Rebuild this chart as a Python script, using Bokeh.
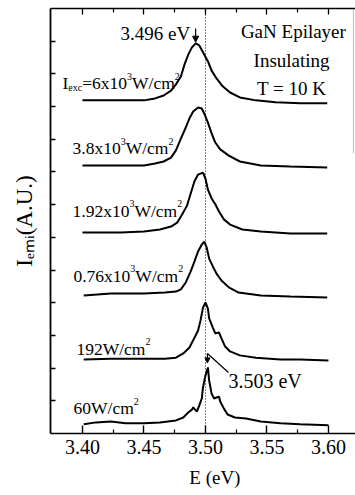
from math import pi
from bokeh.plotting import figure
from bokeh.models import Label, Arrow, NormalHead, LinearAxis, FixedTicker, Span, Range1d
from bokeh.embed import file_html
from bokeh.resources import INLINE

FONT = "Liberation Serif"

# ---- data -------------------------------------------------------------
x_ticks = [3.40, 3.45, 3.50, 3.55, 3.60]
x_tick_labels = ["3.40", "3.45", "3.50", "3.55", "3.60"]
x_minor_ticks = [3.425, 3.475, 3.525, 3.575]
y_ticks = [1, 2, 3, 4, 5, 6, 7, 8, 9, 10, 11, 12]

e_6000 = [3.400, 3.423, 3.450, 3.459, 3.466, 3.472, 3.476, 3.480, 3.483, 3.486, 3.489, 3.492,
          3.495, 3.498, 3.502, 3.505, 3.509, 3.514, 3.520, 3.528, 3.541, 3.557, 3.577, 3.599]
i_6000 = [10.19, 10.19, 10.19, 10.25, 10.34, 10.49, 10.68, 10.92, 11.29, 11.59, 11.81, 11.93,
          11.87, 11.66, 11.38, 11.10, 10.86, 10.62, 10.43, 10.28, 10.19, 10.13, 10.10, 10.10]

e_3800 = [3.400, 3.431, 3.450, 3.459, 3.466, 3.472, 3.476, 3.480, 3.484, 3.487, 3.490, 3.494,
          3.497, 3.499, 3.502, 3.505, 3.508, 3.512, 3.519, 3.528, 3.545, 3.569, 3.599]
i_3800 = [8.20, 8.20, 8.20, 8.26, 8.32, 8.44, 8.66, 9.02, 9.36, 9.64, 9.85, 9.97,
          9.94, 9.79, 9.51, 9.18, 8.90, 8.69, 8.50, 8.32, 8.20, 8.17, 8.14]

e_1920 = [3.400, 3.431, 3.450, 3.463, 3.472, 3.477, 3.481, 3.485, 3.488, 3.491, 3.494, 3.498,
          3.500, 3.502, 3.505, 3.508, 3.511, 3.515, 3.520, 3.530, 3.545, 3.569, 3.599]
i_1920 = [6.15, 6.15, 6.18, 6.24, 6.33, 6.45, 6.70, 6.97, 7.34, 7.71, 7.92, 7.98,
          7.80, 7.46, 7.19, 7.01, 6.79, 6.55, 6.39, 6.24, 6.18, 6.12, 6.12]

e_760 = [3.401, 3.423, 3.450, 3.467, 3.476, 3.480, 3.484, 3.488, 3.491, 3.494, 3.497, 3.499,
         3.501, 3.503, 3.506, 3.509, 3.513, 3.519, 3.527, 3.545, 3.569, 3.599]
i_760 = [4.22, 4.28, 4.28, 4.31, 4.34, 4.41, 4.62, 4.96, 5.26, 5.57, 5.78, 5.87,
         5.69, 5.35, 5.11, 4.89, 4.68, 4.47, 4.31, 4.22, 4.19, 4.16]

e_192 = [3.401, 3.423, 3.450, 3.467, 3.476, 3.482, 3.487, 3.490, 3.494, 3.496, 3.498, 3.500,
         3.502, 3.503, 3.506, 3.508, 3.511, 3.513, 3.516, 3.520, 3.528, 3.541, 3.561, 3.577, 3.600]
i_192 = [2.26, 2.29, 2.29, 2.29, 2.32, 2.45, 2.63, 2.85, 3.15, 3.46, 3.85, 4.01,
         3.82, 3.52, 3.24, 3.06, 3.09, 2.91, 2.66, 2.51, 2.39, 2.32, 2.26, 2.26, 2.23]

e_60 = [3.401, 3.411, 3.423, 3.435, 3.450, 3.463, 3.476, 3.482, 3.486, 3.489, 3.490, 3.493,
        3.495, 3.497, 3.498, 3.500, 3.502, 3.503, 3.505, 3.507, 3.509, 3.511, 3.512, 3.515,
        3.518, 3.524, 3.533, 3.545, 3.561, 3.577, 3.600]
i_60 = [0.28, 0.34, 0.37, 0.31, 0.31, 0.34, 0.40, 0.49, 0.64, 0.73, 0.80, 0.67,
        0.86, 1.07, 1.41, 1.77, 2.02, 1.62, 1.22, 1.07, 1.10, 1.13, 0.98, 0.76,
        0.58, 0.49, 0.46, 0.37, 0.31, 0.28, 0.25]

series = [(e_6000, i_6000), (e_3800, i_3800), (e_1920, i_1920),
          (e_760, i_760), (e_192, i_192), (e_60, i_60)]

x_title = "E (eV)"
y_title = "I\u2091\u2098\u1d62(A.U.)"

# ---- figure -----------------------------------------------------------
p = figure(width=355, height=495, output_backend="svg", toolbar_location=None,
           x_range=Range1d(3.374, 3.622), y_range=Range1d(0, 13),
           min_border_left=50, min_border_right=0, min_border_top=8, min_border_bottom=62)
p.outline_line_color = None
p.grid.visible = False
p.background_fill_color = "white"
p.border_fill_color = "white"

xt = FixedTicker(ticks=x_ticks, minor_ticks=x_minor_ticks)
xa = p.xaxis[0]
xa.ticker = xt
xa.major_label_overrides = {t: s for t, s in zip(x_ticks, x_tick_labels)}
xa.major_label_text_font = FONT
xa.major_label_text_font_size = "20px"
xa.major_label_text_color = "black"
xa.major_label_standoff = 6
xa.axis_line_width = 1.6
xa.axis_line_color = "black"
xa.major_tick_in = 8
xa.major_tick_out = 0
xa.minor_tick_in = 4
xa.minor_tick_out = 0
xa.major_tick_line_width = 1.4
xa.minor_tick_line_width = 1.2
xa.axis_label = "\u00a0" * 5 + x_title
xa.axis_label_text_font = FONT
xa.axis_label_text_font_size = "19px"
xa.axis_label_text_font_style = "normal"
xa.axis_label_text_color = "black"
xa.axis_label_standoff = 10

top = LinearAxis(ticker=xt, major_label_overrides={t: "" for t in x_ticks},
                 major_label_text_font_size="1px", major_label_standoff=0,
                 major_tick_in=6, major_tick_out=0, minor_tick_in=4, minor_tick_out=0,
                 axis_line_width=1.4, major_tick_line_width=1.3, minor_tick_line_width=1.2)
p.add_layout(top, "above")

ya = p.yaxis[0]
ya.ticker = FixedTicker(ticks=y_ticks, minor_ticks=[])
ya.major_label_overrides = {t: "" for t in y_ticks}
ya.major_label_text_font_size = "1px"
ya.major_label_standoff = 0
ya.axis_line_width = 1.8
ya.axis_line_color = "black"
ya.major_tick_in = 5
ya.major_tick_out = 0
ya.major_tick_line_width = 1.3
ya.axis_label = y_title
ya.axis_label_text_font = FONT
ya.axis_label_text_font_size = "23px"
ya.axis_label_text_font_style = "normal"
ya.axis_label_text_color = "black"
ya.axis_label_standoff = 14

# partial right frame edge (faint, as in the scan)
p.line(x=[3.6203, 3.6203], y=[13, 8.57], line_color="#bbbbbb", line_width=1)

# dotted guide at 3.50 eV
p.add_layout(Span(location=3.50, dimension="height", line_color="black",
                  line_width=1, line_dash="1 2"))

for e, i in series:
    p.line(e, i, line_color="black", line_width=2)

# ---- text helpers -----------------------------------------------------
W = {'0': 500, '1': 500, '2': 500, '3': 500, '4': 500, '5': 500, '6': 500, '7': 500,
     '8': 500, '9': 500, '.': 250, 'x': 500, 'W': 944, '/': 278, 'c': 444, 'm': 778,
     '=': 564, 'I': 333, 'e': 444, 'V': 722, ' ': 250, '(': 333, ')': 333, 'A': 722,
     'U': 722, 'E': 611, 'i': 278}


def tw(s, size):
    return sum(W.get(c, 500) for c in s) * size / 1000.0


def rich(x, y, parts):
    off = 0.0
    for text, size, dy in parts:
        lab = Label(x=x, y=y, x_offset=off, y_offset=dy, text=text)
        lab.text_font = FONT
        lab.text_font_size = f"{size}px"
        lab.text_baseline = "alphabetic"
        lab.text_color = "black"
        p.add_layout(lab)
        off += tw(text, size)


def plain(x, y, text, size, align="left"):
    p.add_layout(Label(x=x, y=y, text=text, text_font=FONT, text_font_size=f"{size}px",
                       text_baseline="alphabetic", text_align=align, text_color="black"))


F, S = 17.5, 10
rich(3.3837, 10.71, [("I", F, 0), ("exc", S, -4), ("=6x10", F, 0), ("3", S, 7), ("W/cm", F, 0), ("2", S, 7)])
rich(3.3919, 8.72, [("3.8x10", F, 0), ("3", S, 7), ("W/cm", F, 0), ("2", S, 7)])
rich(3.3919, 6.82, [("1.92x10", F, 0), ("3", S, 7), ("W/cm", F, 0), ("2", S, 7)])
rich(3.3927, 4.83, [("0.76x10", F, 0), ("3", S, 7), ("W/cm", F, 0), ("2", S, 7)])
rich(3.3951, 2.60, [("192W/cm", F, 0), ("2", S, 7)])
rich(3.3927, 0.765, [("60W/cm", F, 0), ("2", S, 7)])

plain(3.4309, 12.24, "3.496 eV", 19)
plain(3.5715, 12.30, "GaN Epilayer", 19, "center")
plain(3.5700, 11.41, "Insulating", 19, "center")
plain(3.5700, 10.55, "T = 10 K", 19, "center")
plain(3.5187, 1.62, "3.503 eV", 20)

# arrows
p.add_layout(Arrow(x_start=3.492, y_start=12.39, x_end=3.492, y_end=11.97, line_width=1.2,
                   end=NormalHead(size=6, fill_color="black", line_color="black")))
p.add_layout(Arrow(x_start=3.5187, y_start=1.866, x_end=3.5016, y_end=2.447, line_width=1.2,
                   end=None))
p.add_layout(Arrow(x_start=3.5016, y_start=2.447, x_end=3.5016, y_end=2.16, line_width=1.2,
                   end=NormalHead(size=5, fill_color="black", line_color="black")))

open("out.html", "w").write(file_html(p, INLINE))
